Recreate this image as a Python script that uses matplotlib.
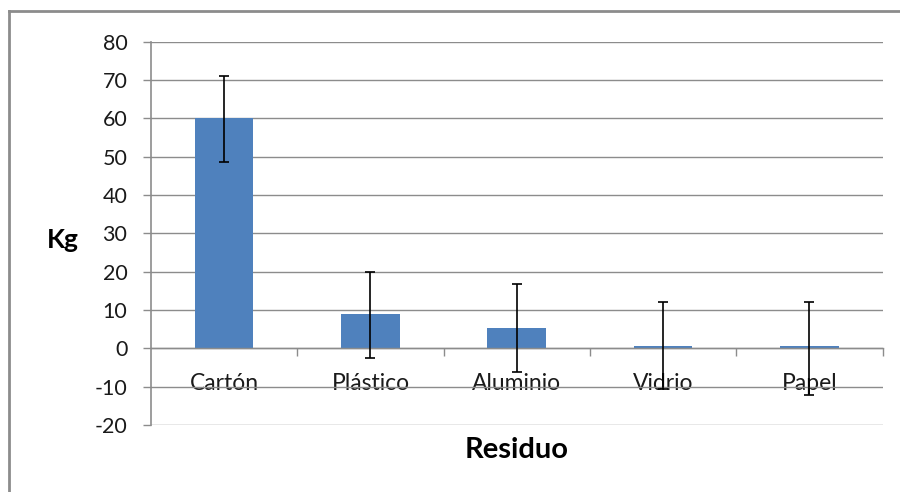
import matplotlib.pyplot as plt
from matplotlib.lines import Line2D
import numpy as np

plt.rcParams["font.family"] = ["Lato", "DejaVu Sans"]
plt.rcParams["axes.unicode_minus"] = False

residuos = ["Cartón", "Plástico", "Aluminio", "Vidrio", "Papel"]
kg = [60.0, 8.9, 5.4, 0.5, 0.5]
err_low = [11.5, 11.35, 11.5, 11.2, 12.7]
err_high = [11.0, 11.1, 11.3, 11.5, 11.5]

GRID = "#8c8c8c"
BAR = "#4f81bd"
TEXT = "#1a1a1a"

fig = plt.figure(figsize=(9, 4.92), dpi=100)
ax = fig.add_axes([151 / 900, 1 - 425 / 492, (882.5 - 151) / 900, (425 - 41.7) / 492])

x = np.arange(len(residuos))
ax.bar(x, kg, width=0.4, color=BAR, zorder=2)
ax.errorbar(x, kg, yerr=[err_low, err_high], fmt="none", ecolor="black",
            elinewidth=1.2, capsize=3.5, capthick=1.2, zorder=3)

ax.set_xlim(-0.5, len(residuos) - 0.5)
ax.set_ylim(-20, 80)
ax.set_yticks(range(-20, 81, 10))
ax.yaxis.grid(True, color=GRID, linewidth=1.0, zorder=0)
ax.set_axisbelow(True)

for side in ("top", "right"):
    ax.spines[side].set_visible(False)
ax.spines["left"].set_color(GRID)
ax.spines["left"].set_linewidth(1.2)
ax.spines["bottom"].set_position(("data", 0))
ax.spines["bottom"].set_color(GRID)
ax.spines["bottom"].set_linewidth(1.0)

ax.tick_params(axis="y", colors=GRID, length=6, width=1, pad=11, labelsize=15.5, labelcolor=TEXT)
ax.set_xticks(x)
ax.set_xticklabels(residuos)
ax.tick_params(axis="x", length=0, pad=18, labelsize=16.5, labelcolor=TEXT)
ax.set_xticks(np.arange(0.5, len(residuos), 1.0), minor=True)
ax.tick_params(axis="x", which="minor", length=6, width=1, colors=GRID, direction="out")

fig.text(63 / 900, 1 - 240 / 492, "Kg", fontsize=19, fontweight="bold", ha="center", va="center")
fig.text(516.7 / 900, 1 - 450 / 492, "Residuo", fontsize=21, fontweight="bold", ha="center", va="center")

# chart frame (runs off the right and bottom edges)
fig.add_artist(Line2D([9 / 900, 1.0], [1 - 11 / 492, 1 - 11 / 492], color=GRID, linewidth=2,
                      transform=fig.transFigure))
fig.add_artist(Line2D([9 / 900, 9 / 900], [1 - 11 / 492, 0.0], color=GRID, linewidth=2,
                      transform=fig.transFigure))

fig.savefig("out.png", dpi=100)
